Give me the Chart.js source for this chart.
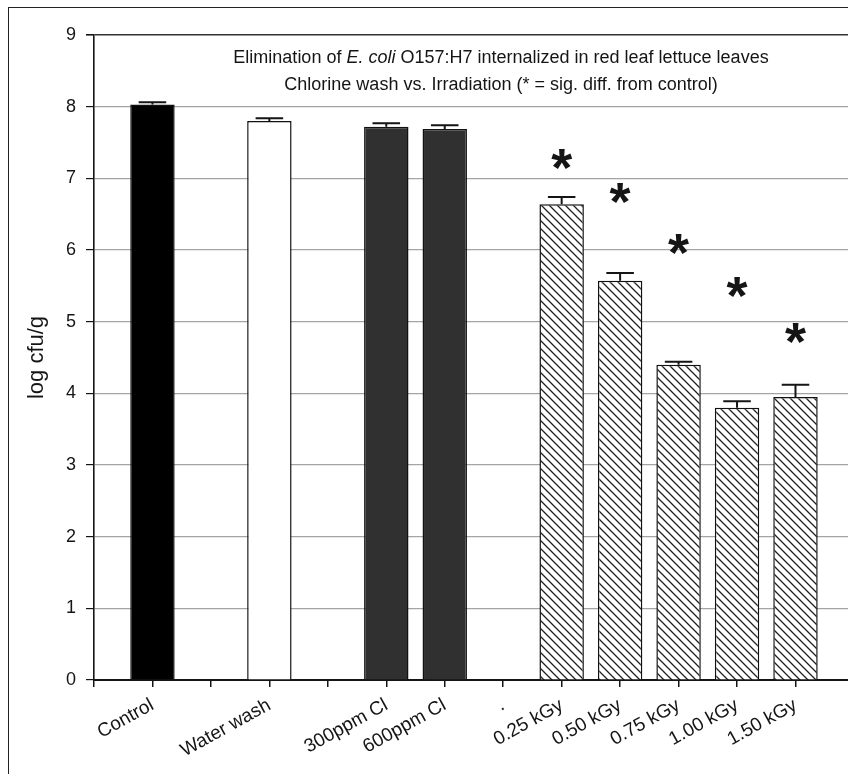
<!DOCTYPE html>
<html>
<head>
<meta charset="utf-8">
<script src="https://cdn.jsdelivr.net/npm/chart.js@4.4.1/dist/chart.umd.min.js"></script>
<style>
  html, body { margin: 0; padding: 0; background: #fff; overflow: hidden; }
  #wrap { position: relative; width: 848px; height: 774px; overflow: hidden; }
  #frame { position: absolute; left: 8px; top: 7px; width: 1000px; height: 1000px;
           border-left: 1.5px solid #222; border-top: 1.5px solid #222; }
  #chart { position: absolute; left: 0; top: 0; }
</style>
</head>
<body>
<div id="wrap">
  <div id="frame"></div>
  <canvas id="chart" width="872" height="774"></canvas>
</div>
<script>
// categories (empty ones are spacer slots on the axis)
const categories = ['', 'Control', '', 'Water wash', '', '300ppm Cl', '600ppm Cl', '.',
                    '0.25 kGy', '0.50 kGy', '0.75 kGy', '1.00 kGy', '1.50 kGy', ''];
const treatment = ['', 'control', '', 'water', '', 'chlorine', 'chlorine', '',
                   'irradiation', 'irradiation', 'irradiation', 'irradiation', 'irradiation', ''];
// log cfu/g means and upper error bars
const logCfu = [null, 8.03, null, 7.80, null, 7.72, 7.69, null, 6.64, 5.57, 4.40, 3.80, 3.95, null];
const stdErr = [null, 0.03, null, 0.04, null, 0.05, 0.05, null, 0.10, 0.11, 0.04, 0.09, 0.17, null];
// where the "*" (sig. diff. from control) sits
const sigStar = [null, null, null, null, null, null, null, null, 7.26, 6.79, 6.07, 5.48, 4.84, null];
const yTicks = [0, 1, 2, 3, 4, 5, 6, 7, 8, 9];

const titleLine1 = [['Elimination of ', false], ['E. coli', true], [' O157:H7 internalized in red leaf lettuce leaves', false]];
const titleLine2 = [['Chlorine wash vs. Irradiation (* = sig. diff. from control)', false]];

const FONT = "'Liberation Sans', Arial, Helvetica, sans-serif";
const INK = '#151515';

function hatch() {
  const c = document.createElement('canvas');
  c.width = 8; c.height = 8;
  const g = c.getContext('2d');
  g.fillStyle = '#fff';
  g.fillRect(0, 0, 8, 8);
  g.strokeStyle = '#222';
  g.lineWidth = 1.3;
  g.beginPath();
  for (let k = -1; k <= 1; k++) {
    g.moveTo(k * 8 - 1, -1);
    g.lineTo(k * 8 + 9, 9);
  }
  g.stroke();
  return g.createPattern(c, 'repeat');
}
const hatchFill = hatch();

const fills = {
  control: '#000',
  water: '#fff',
  chlorine: '#303030',
  irradiation: hatchFill
};

const errorBars = {
  id: 'errorBars',
  afterDatasetsDraw(chart) {
    const ctx = chart.ctx;
    const y = chart.scales.y;
    const meta = chart.getDatasetMeta(0);
    ctx.save();
    ctx.strokeStyle = INK;
    ctx.lineWidth = 2;
    meta.data.forEach((bar, i) => {
      if (logCfu[i] == null || stdErr[i] == null) return;
      const top = y.getPixelForValue(logCfu[i] + stdErr[i]);
      const half = bar.width * 0.31;
      ctx.beginPath();
      ctx.moveTo(bar.x, bar.y);
      ctx.lineTo(bar.x, top);
      ctx.moveTo(bar.x - half, top);
      ctx.lineTo(bar.x + half, top);
      ctx.stroke();
    });
    ctx.restore();
  }
};

const stars = {
  id: 'stars',
  afterDatasetsDraw(chart) {
    const ctx = chart.ctx;
    const x = chart.scales.x, y = chart.scales.y;
    ctx.save();
    ctx.font = 'bold 54px ' + FONT;
    ctx.fillStyle = INK;
    ctx.textAlign = 'center';
    ctx.textBaseline = 'alphabetic';
    const m = ctx.measureText('*');
    const shift = (m.actualBoundingBoxDescent - m.actualBoundingBoxAscent) / 2;
    sigStar.forEach((v, i) => {
      if (v == null) return;
      ctx.fillText('*', x.getPixelForValue(i), y.getPixelForValue(v) - shift);
    });
    ctx.restore();
  }
};

const figTitle = {
  id: 'figTitle',
  afterDraw(chart) {
    const ctx = chart.ctx;
    const cx = 501;
    ctx.save();
    ctx.fillStyle = INK;
    ctx.textBaseline = 'middle';
    ctx.textAlign = 'left';
    [[titleLine1, 58], [titleLine2, 85]].forEach(([parts, ty]) => {
      let total = 0;
      parts.forEach(([t, it]) => {
        ctx.font = (it ? 'italic ' : '') + '18px ' + FONT;
        total += ctx.measureText(t).width;
      });
      let tx = cx - total / 2;
      parts.forEach(([t, it]) => {
        ctx.font = (it ? 'italic ' : '') + '18px ' + FONT;
        ctx.fillText(t, tx, ty);
        tx += ctx.measureText(t).width;
      });
    });
    ctx.restore();
  }
};

new Chart(document.getElementById('chart').getContext('2d'), {
  type: 'bar',
  data: {
    labels: categories,
    datasets: [{
      data: logCfu,
      backgroundColor: treatment.map(t => fills[t] || '#fff'),
      borderColor: '#111',
      borderWidth: 1.5,
      barPercentage: 0.76,
      categoryPercentage: 1
    }]
  },
  options: {
    responsive: false,
    animation: false,
    layout: { padding: { left: 20, top: 35, right: 17.5, bottom: 0 } },
    plugins: { legend: { display: false }, tooltip: { enabled: false }, title: { display: false } },
    scales: {
      x: {
        offset: false,
        grid: { offset: false, drawOnChartArea: false, drawTicks: true, tickLength: 7, tickColor: INK, lineWidth: 1.5 },
        border: { color: INK, width: 2 },
        ticks: {
          autoSkip: false, minRotation: 29, maxRotation: 29, padding: 7,
          color: INK, font: { family: FONT, size: 19 }
        },
        afterFit(axis) { axis.height = 94; }
      },
      y: {
        min: 0, max: 9,
        afterBuildTicks(axis) { axis.ticks = yTicks.map(v => ({ value: v })); },
        grid: {
          color: c => (c.tick && c.tick.value === 9) ? '#333' : '#a4a4a4',
          lineWidth: c => (c.tick && c.tick.value === 9) ? 1.6 : 1.2,
          tickLength: 8, tickColor: INK
        },
        border: { color: INK, width: 1.6 },
        ticks: { padding: 10, color: INK, font: { family: FONT, size: 18 } },
        title: { display: true, text: 'log cfu/g', color: INK, font: { family: FONT, size: 22 }, padding: { top: 4, bottom: 4 } },
        afterFit(axis) { axis.width = 74; }
      }
    }
  },
  plugins: [errorBars, stars, figTitle]
});
</script>
</body>
</html>
